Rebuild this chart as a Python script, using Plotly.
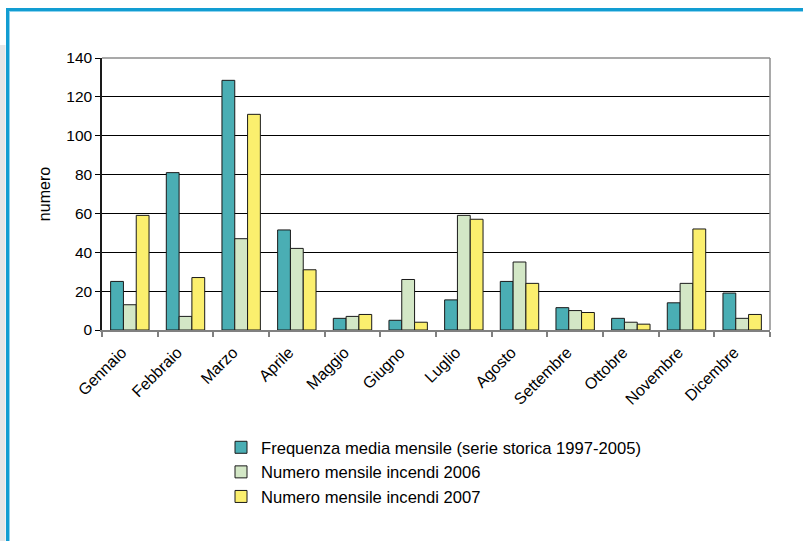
import plotly.graph_objects as go

months = ["Gennaio", "Febbraio", "Marzo", "Aprile", "Maggio", "Giugno",
          "Luglio", "Agosto", "Settembre", "Ottobre", "Novembre", "Dicembre"]
media_1997_2005 = [25, 81, 128.5, 51.5, 6, 5, 15.5, 25, 11.5, 6, 14, 19]
incendi_2006 = [13, 7, 47, 42, 7, 26, 59, 35, 10, 4, 24, 6]
incendi_2007 = [59, 27, 111, 31, 8, 4, 57, 24, 9, 3, 52, 8]

series_names = ["Frequenza media mensile (serie storica 1997-2005)",
                "Numero mensile incendi 2006",
                "Numero mensile incendi 2007"]
series_colors = ["#4aaeb4", "#d3e7c6", "#fbef6e"]
y_ticks = [0, 20, 40, 60, 80, 100, 120, 140]

W, H = 803, 541
L, R, T, B = 102, 33, 58, 211
PW, PH = W - L - R, H - T - B

def px_x(x):
    return (x - L) / PW

def px_y(y):
    return (H - B - y) / PH

fig = go.Figure()
for i, (name, vals, col) in enumerate(zip(series_names,
                                          [media_1997_2005, incendi_2006, incendi_2007],
                                          series_colors)):
    fig.add_trace(go.Bar(
        x=months, y=vals, name=name, legendgroup=str(i),
        marker=dict(color=col, line=dict(color="#1a1a1a", width=1)),
    ))

shapes = [
    # grey page strip on the left
    dict(type="rect", xref="paper", yref="paper", x0=px_x(0), x1=px_x(5.5),
         y0=px_y(541), y1=px_y(45), fillcolor="#e6e6e7", line=dict(width=0), layer="below"),
    # blue frame
    dict(type="line", xref="paper", yref="paper", x0=px_x(7.5), x1=px_x(7.5),
         y0=px_y(541), y1=px_y(8), line=dict(color="#129dd2", width=3)),
    dict(type="line", xref="paper", yref="paper", x0=px_x(6), x1=px_x(803),
         y0=px_y(9.5), y1=px_y(9.5), line=dict(color="#129dd2", width=3)),
    dict(type="line", xref="paper", yref="paper", x0=px_x(9.5), x1=px_x(9.5),
         y0=px_y(541), y1=px_y(11), line=dict(color="#8fd3ee", width=1)),
    dict(type="line", xref="paper", yref="paper", x0=px_x(9), x1=px_x(803),
         y0=px_y(11.5), y1=px_y(11.5), line=dict(color="#8fd3ee", width=1)),
    # plot frame top / right (grey)
    dict(type="line", xref="paper", yref="paper", x0=0, x1=1, y0=1, y1=1,
         line=dict(color="#8c8c8c", width=1.5)),
    dict(type="line", xref="paper", yref="paper", x0=1, x1=1, y0=0, y1=1,
         line=dict(color="#8c8c8c", width=1.5)),
]

fig.update_layout(
    width=W, height=H,
    margin=dict(l=L, r=R, t=T, b=B),
    paper_bgcolor="white", plot_bgcolor="white",
    font=dict(family="Liberation Sans, Arial, sans-serif", color="#000000", size=16),
    barmode="group", bargap=0.31, bargroupgap=0,
    showlegend=True,
    legend=dict(x=px_x(221), y=px_y(430), xanchor="left", yanchor="top",
                font=dict(size=16.6), traceorder="grouped", tracegroupgap=0,
                bgcolor="rgba(0,0,0,0)", itemwidth=30),
    shapes=shapes,
)
fig.update_xaxes(
    type="category", tickangle=-45, tickson="boundaries",
    ticks="outside", ticklen=5, tickcolor="#808080", tickwidth=1.5,
    showline=True, linecolor="#808080", linewidth=1.5,
    showgrid=False, tickfont=dict(size=16),
    ticklabelshift=-8, ticklabelstandoff=5,
)
fig.update_yaxes(
    range=[0, 140], tickvals=y_ticks, ticks="outside", ticklen=5,
    tickcolor="#000000", showline=True, linecolor="#1a1a1a", linewidth=1.5,
    showgrid=True, gridcolor="#000000", gridwidth=1, zeroline=False,
    tickfont=dict(size=15.5),
    title=dict(text="numero", font=dict(size=16), standoff=12),
)

fig.write_html("out.html")
